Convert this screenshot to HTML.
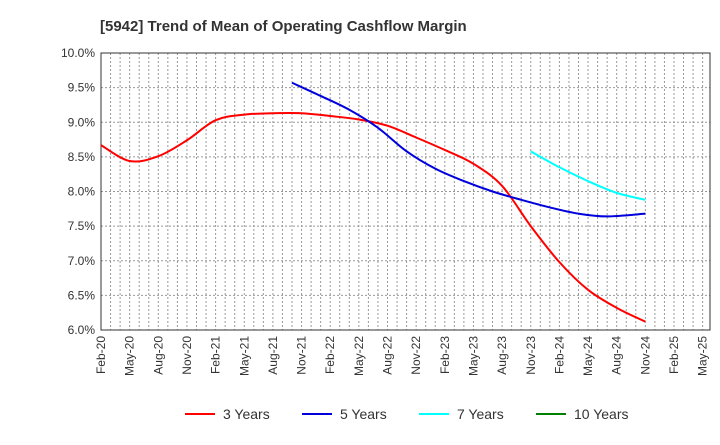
<!DOCTYPE html>
<html><head><meta charset="utf-8"><style>
body{margin:0;background:#fff;font-family:"Liberation Sans",sans-serif;}
</style></head><body>
<svg id="c" width="720" height="440" xmlns="http://www.w3.org/2000/svg" style="font-family:'Liberation Sans',sans-serif">
<text x="100" y="31" font-size="15" font-weight="bold" fill="#333">[5942]  Trend of Mean of Operating Cashflow Margin</text>
<g id="grid"></g><g id="axes"></g><g id="series"></g><g id="legend"></g>
</svg>
<script>
const xLabels=["Feb-20","May-20","Aug-20","Nov-20","Feb-21","May-21","Aug-21","Nov-21","Feb-22","May-22","Aug-22","Nov-22","Feb-23","May-23","Aug-23","Nov-23","Feb-24","May-24","Aug-24","Nov-24","Feb-25","May-25"];
const yTicks=[6.0,6.5,7.0,7.5,8.0,8.5,9.0,9.5,10.0];
// months since Feb-20
const s3Months=[0,3,6,9,12,15,18,21,24,27,30,33,36,39,42,45,48,51,54,57];
const s3=[8.67,8.44,8.51,8.74,9.03,9.11,9.13,9.13,9.09,9.04,8.95,8.78,8.6,8.4,8.08,7.5,6.98,6.58,6.32,6.12];
const s5Months=[20,23,26,29,32,35,38,41,44,47,50,53,57];
const s5=[9.57,9.38,9.18,8.92,8.58,8.33,8.15,8.0,7.88,7.77,7.68,7.64,7.68];
const s7Months=[45,48,51,54,57];
const s7=[8.58,8.35,8.15,7.98,7.88];
const L=101,R=710,T=53,B=330;
const MW=28.65/3;
const x=m=>L+MW*m;
const y=v=>B-(v-6)/(10-6)*(B-T);
const NS="http://www.w3.org/2000/svg";
function mk(p,t,a){const e=document.createElementNS(NS,t);for(const k in a)e.setAttribute(k,a[k]);p.appendChild(e);return e;}
const grid=document.getElementById('grid'),axes=document.getElementById('axes'),ser=document.getElementById('series'),leg=document.getElementById('legend');
for(let m=1;x(m)<R-1;m++){const xx=x(m);
const g=mk(grid,'line',{x1:xx,x2:xx,y1:T,y2:B,stroke:'#999','stroke-dasharray':'2,2','stroke-width':1});

}
yTicks.forEach(v=>{const g=mk(grid,'line',{x1:L,x2:R,y1:y(v),y2:y(v),stroke:'#999','stroke-dasharray':'2,2','stroke-width':1});


const t=mk(axes,'text',{x:L-6,y:y(v)+4,'text-anchor':'end','font-size':12,fill:'#333'});t.textContent=v.toFixed(1)+'%';

});
const fr=mk(axes,'rect',{x:L,y:T,width:R-L,height:B-T,fill:'none',stroke:'#333','stroke-width':1});


xLabels.forEach((l,i)=>{const t=mk(axes,'text',{x:0,y:0,'text-anchor':'end','font-size':12,fill:'#333',transform:`translate(${x(i*3)+4},${B+6}) rotate(-90)`});t.textContent=l;

});
function path(vals,months){const p=vals.map((v,i)=>[x(months[i]),y(v)]);let d=`M${p[0][0]},${p[0][1]}`;
for(let i=0;i<p.length-1;i++){const p0=p[i-1]||p[i],p1=p[i],p2=p[i+1],p3=p[i+2]||p2;
d+=` C${p1[0]+(p2[0]-p0[0])/6},${p1[1]+(p2[1]-p0[1])/6} ${p2[0]-(p3[0]-p1[0])/6},${p2[1]-(p3[1]-p1[1])/6} ${p2[0]},${p2[1]}`;}return d;}
[[s3,s3Months,'#ff0000','line-3-years'],[s5,s5Months,'#0000dd','line-5-years'],[s7,s7Months,'#00ffff','line-7-years']].forEach(([v,s,c,n])=>{
const e=mk(ser,'path',{d:path(v,s),fill:'none',stroke:c,'stroke-width':2});

});
[['3 Years','#ff0000',185],['5 Years','#0000dd',302],['7 Years','#00ffff',419],['10 Years','#008000',536]].forEach(([n,c,lx])=>{
const g=mk(leg,'g',{});


mk(g,'line',{x1:lx,x2:lx+30,y1:414,y2:414,stroke:c,'stroke-width':2});
const t=mk(g,'text',{x:lx+38,y:419,'font-size':14,fill:'#333'});t.textContent=n;});
</script>
</body></html>
